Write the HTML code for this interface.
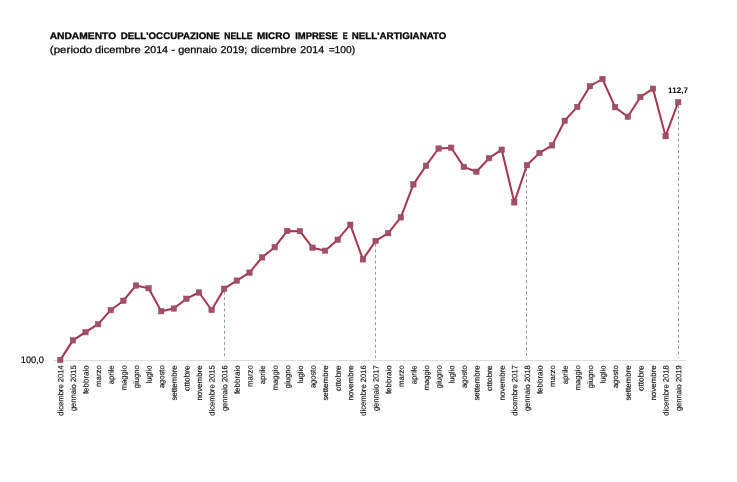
<!DOCTYPE html>
<html lang="it"><head><meta charset="utf-8"><title>Andamento dell'occupazione</title>
<style>
html,body{margin:0;padding:0;background:#fff;}
body{width:737px;height:482px;overflow:hidden;}
svg{display:block;}
text{font-family:"Liberation Sans",sans-serif;fill:#000;}
.t1{font-weight:bold;font-size:9.5px;stroke:#000;stroke-width:0.3px;}
.t2{font-size:10px;stroke:#000;stroke-width:0.25px;}
.xl{font-size:7.7px;fill:#111;stroke:#111;stroke-width:0.15px;}
.yl{font-size:9.4px;stroke:#000;stroke-width:0.15px;}
.vl{font-weight:bold;font-size:8.1px;}
</style></head><body>
<svg width="737" height="482" viewBox="0 0 737 482">
<rect width="737" height="482" fill="#fff"/>
<text class="t1" y="39.0" transform="matrix(1 0 0.001 1 0 0)"><tspan x="49.6" textLength="66.5" lengthAdjust="spacingAndGlyphs">ANDAMENTO</tspan> <tspan x="120.8" textLength="98.9" lengthAdjust="spacingAndGlyphs">DELL'OCCUPAZIONE</tspan> <tspan x="224.2" textLength="28.2" lengthAdjust="spacingAndGlyphs">NELLE</tspan> <tspan x="257.0" textLength="33.2" lengthAdjust="spacingAndGlyphs">MICRO</tspan> <tspan x="295.1" textLength="42.7" lengthAdjust="spacingAndGlyphs">IMPRESE</tspan> <tspan x="342.7" textLength="4.9" lengthAdjust="spacingAndGlyphs">E</tspan> <tspan x="351.8" textLength="94.5" lengthAdjust="spacingAndGlyphs">NELL'ARTIGIANATO</tspan></text>
<text class="t2" y="53.1" transform="matrix(1 0 0.001 1 0 0)"><tspan x="49.8" textLength="42.4" lengthAdjust="spacingAndGlyphs">(periodo</tspan> <tspan x="95.0" textLength="45.6" lengthAdjust="spacingAndGlyphs">dicembre</tspan> <tspan x="144.2" textLength="23.8" lengthAdjust="spacingAndGlyphs">2014</tspan> <tspan x="171.1" textLength="4.0" lengthAdjust="spacingAndGlyphs">-</tspan> <tspan x="178.1" textLength="38.8" lengthAdjust="spacingAndGlyphs">gennaio</tspan> <tspan x="220.4" textLength="26.9" lengthAdjust="spacingAndGlyphs">2019;</tspan> <tspan x="250.9" textLength="45.4" lengthAdjust="spacingAndGlyphs">dicembre</tspan> <tspan x="300.3" textLength="23.8" lengthAdjust="spacingAndGlyphs">2014</tspan> <tspan x="328.6" textLength="26.4" lengthAdjust="spacingAndGlyphs">=100)</tspan></text>
<line x1="53.5" y1="360.5" x2="685" y2="360.5" stroke="#dcdcdc" stroke-width="1"/>
<line x1="224.5" y1="291.7" x2="224.5" y2="358" stroke="#6f8797" stroke-width="0.85" stroke-dasharray="2.8 2.8"/>
<line x1="375.5" y1="243.9" x2="375.5" y2="358" stroke="#6f8797" stroke-width="0.85" stroke-dasharray="2.8 2.8"/>
<line x1="526.5" y1="168.2" x2="526.5" y2="358" stroke="#6f8797" stroke-width="0.85" stroke-dasharray="2.8 2.8"/>
<line x1="678.5" y1="105.2" x2="678.5" y2="358" stroke="#6f8797" stroke-width="0.85" stroke-dasharray="2.8 2.8"/>
<polyline points="60.3,359.9 72.9,340.4 85.5,332.2 98.1,324.2 110.7,310.2 123.4,300.7 136.0,285.5 148.6,288.2 161.2,311.2 173.8,308.5 186.4,298.7 199.0,292.5 211.6,310.0 224.2,288.7 236.8,280.6 249.5,272.6 262.1,257.4 274.7,247.2 287.3,230.9 299.9,231.2 312.5,247.7 325.1,250.7 337.7,239.7 350.3,224.7 362.9,259.4 375.6,240.9 388.2,233.2 400.8,217.4 413.4,184.4 426.0,165.7 438.6,148.5 451.2,147.7 463.8,166.9 476.4,171.7 489.0,158.2 501.7,149.7 514.3,202.4 526.9,165.2 539.5,152.9 552.1,145.4 564.7,120.7 577.3,106.9 589.9,86.2 602.5,79.0 615.1,107.2 627.8,116.7 640.4,97.0 653.0,88.7 665.6,136.2 678.2,102.2" fill="none" stroke="#a6364b" stroke-width="2" stroke-linejoin="round"/>
<rect x="57.6" y="357.2" width="5.4" height="5.4" fill="#a0506a" stroke="#96405a" stroke-width="0.5"/>
<rect x="70.2" y="337.7" width="5.4" height="5.4" fill="#a0506a" stroke="#96405a" stroke-width="0.5"/>
<rect x="82.8" y="329.5" width="5.4" height="5.4" fill="#a0506a" stroke="#96405a" stroke-width="0.5"/>
<rect x="95.4" y="321.5" width="5.4" height="5.4" fill="#a0506a" stroke="#96405a" stroke-width="0.5"/>
<rect x="108.0" y="307.5" width="5.4" height="5.4" fill="#a0506a" stroke="#96405a" stroke-width="0.5"/>
<rect x="120.7" y="298.0" width="5.4" height="5.4" fill="#a0506a" stroke="#96405a" stroke-width="0.5"/>
<rect x="133.3" y="282.8" width="5.4" height="5.4" fill="#a0506a" stroke="#96405a" stroke-width="0.5"/>
<rect x="145.9" y="285.5" width="5.4" height="5.4" fill="#a0506a" stroke="#96405a" stroke-width="0.5"/>
<rect x="158.5" y="308.5" width="5.4" height="5.4" fill="#a0506a" stroke="#96405a" stroke-width="0.5"/>
<rect x="171.1" y="305.8" width="5.4" height="5.4" fill="#a0506a" stroke="#96405a" stroke-width="0.5"/>
<rect x="183.7" y="296.0" width="5.4" height="5.4" fill="#a0506a" stroke="#96405a" stroke-width="0.5"/>
<rect x="196.3" y="289.8" width="5.4" height="5.4" fill="#a0506a" stroke="#96405a" stroke-width="0.5"/>
<rect x="208.9" y="307.3" width="5.4" height="5.4" fill="#a0506a" stroke="#96405a" stroke-width="0.5"/>
<rect x="221.5" y="286.0" width="5.4" height="5.4" fill="#a0506a" stroke="#96405a" stroke-width="0.5"/>
<rect x="234.1" y="277.9" width="5.4" height="5.4" fill="#a0506a" stroke="#96405a" stroke-width="0.5"/>
<rect x="246.8" y="269.9" width="5.4" height="5.4" fill="#a0506a" stroke="#96405a" stroke-width="0.5"/>
<rect x="259.4" y="254.7" width="5.4" height="5.4" fill="#a0506a" stroke="#96405a" stroke-width="0.5"/>
<rect x="272.0" y="244.5" width="5.4" height="5.4" fill="#a0506a" stroke="#96405a" stroke-width="0.5"/>
<rect x="284.6" y="228.2" width="5.4" height="5.4" fill="#a0506a" stroke="#96405a" stroke-width="0.5"/>
<rect x="297.2" y="228.5" width="5.4" height="5.4" fill="#a0506a" stroke="#96405a" stroke-width="0.5"/>
<rect x="309.8" y="245.0" width="5.4" height="5.4" fill="#a0506a" stroke="#96405a" stroke-width="0.5"/>
<rect x="322.4" y="248.0" width="5.4" height="5.4" fill="#a0506a" stroke="#96405a" stroke-width="0.5"/>
<rect x="335.0" y="237.0" width="5.4" height="5.4" fill="#a0506a" stroke="#96405a" stroke-width="0.5"/>
<rect x="347.6" y="222.0" width="5.4" height="5.4" fill="#a0506a" stroke="#96405a" stroke-width="0.5"/>
<rect x="360.2" y="256.7" width="5.4" height="5.4" fill="#a0506a" stroke="#96405a" stroke-width="0.5"/>
<rect x="372.9" y="238.2" width="5.4" height="5.4" fill="#a0506a" stroke="#96405a" stroke-width="0.5"/>
<rect x="385.5" y="230.5" width="5.4" height="5.4" fill="#a0506a" stroke="#96405a" stroke-width="0.5"/>
<rect x="398.1" y="214.7" width="5.4" height="5.4" fill="#a0506a" stroke="#96405a" stroke-width="0.5"/>
<rect x="410.7" y="181.7" width="5.4" height="5.4" fill="#a0506a" stroke="#96405a" stroke-width="0.5"/>
<rect x="423.3" y="163.0" width="5.4" height="5.4" fill="#a0506a" stroke="#96405a" stroke-width="0.5"/>
<rect x="435.9" y="145.8" width="5.4" height="5.4" fill="#a0506a" stroke="#96405a" stroke-width="0.5"/>
<rect x="448.5" y="145.0" width="5.4" height="5.4" fill="#a0506a" stroke="#96405a" stroke-width="0.5"/>
<rect x="461.1" y="164.2" width="5.4" height="5.4" fill="#a0506a" stroke="#96405a" stroke-width="0.5"/>
<rect x="473.7" y="169.0" width="5.4" height="5.4" fill="#a0506a" stroke="#96405a" stroke-width="0.5"/>
<rect x="486.3" y="155.5" width="5.4" height="5.4" fill="#a0506a" stroke="#96405a" stroke-width="0.5"/>
<rect x="499.0" y="147.0" width="5.4" height="5.4" fill="#a0506a" stroke="#96405a" stroke-width="0.5"/>
<rect x="511.6" y="199.7" width="5.4" height="5.4" fill="#a0506a" stroke="#96405a" stroke-width="0.5"/>
<rect x="524.2" y="162.5" width="5.4" height="5.4" fill="#a0506a" stroke="#96405a" stroke-width="0.5"/>
<rect x="536.8" y="150.2" width="5.4" height="5.4" fill="#a0506a" stroke="#96405a" stroke-width="0.5"/>
<rect x="549.4" y="142.7" width="5.4" height="5.4" fill="#a0506a" stroke="#96405a" stroke-width="0.5"/>
<rect x="562.0" y="118.0" width="5.4" height="5.4" fill="#a0506a" stroke="#96405a" stroke-width="0.5"/>
<rect x="574.6" y="104.2" width="5.4" height="5.4" fill="#a0506a" stroke="#96405a" stroke-width="0.5"/>
<rect x="587.2" y="83.5" width="5.4" height="5.4" fill="#a0506a" stroke="#96405a" stroke-width="0.5"/>
<rect x="599.8" y="76.3" width="5.4" height="5.4" fill="#a0506a" stroke="#96405a" stroke-width="0.5"/>
<rect x="612.4" y="104.5" width="5.4" height="5.4" fill="#a0506a" stroke="#96405a" stroke-width="0.5"/>
<rect x="625.1" y="114.0" width="5.4" height="5.4" fill="#a0506a" stroke="#96405a" stroke-width="0.5"/>
<rect x="637.7" y="94.3" width="5.4" height="5.4" fill="#a0506a" stroke="#96405a" stroke-width="0.5"/>
<rect x="650.3" y="86.0" width="5.4" height="5.4" fill="#a0506a" stroke="#96405a" stroke-width="0.5"/>
<rect x="662.9" y="133.5" width="5.4" height="5.4" fill="#a0506a" stroke="#96405a" stroke-width="0.5"/>
<rect x="675.5" y="99.5" width="5.4" height="5.4" fill="#a0506a" stroke="#96405a" stroke-width="0.5"/>
<text class="yl" x="20.8" y="363.3" transform="matrix(1 0 0.001 1 -0.36 0)" textLength="23.1" lengthAdjust="spacingAndGlyphs">100,0</text>
<text class="vl" x="668.1" y="93.5" transform="matrix(1 0 0.001 1 -0.09 0)" textLength="19.8" lengthAdjust="spacingAndGlyphs">112,7</text>
<text class="xl" transform="translate(63.3,365.3) rotate(-89.95)" text-anchor="end" textLength="50.4" lengthAdjust="spacingAndGlyphs">dicembre 2014</text>
<text class="xl" transform="translate(75.9,365.3) rotate(-89.95)" text-anchor="end" textLength="45.8" lengthAdjust="spacingAndGlyphs">gennaio 2015</text>
<text class="xl" transform="translate(88.5,365.3) rotate(-89.95)" text-anchor="end" textLength="28.8" lengthAdjust="spacingAndGlyphs">febbraio</text>
<text class="xl" transform="translate(101.1,365.3) rotate(-89.95)" text-anchor="end" textLength="21.6" lengthAdjust="spacingAndGlyphs">marzo</text>
<text class="xl" transform="translate(113.7,365.3) rotate(-89.95)" text-anchor="end" textLength="19.0" lengthAdjust="spacingAndGlyphs">aprile</text>
<text class="xl" transform="translate(126.4,365.3) rotate(-89.95)" text-anchor="end" textLength="25.0" lengthAdjust="spacingAndGlyphs">maggio</text>
<text class="xl" transform="translate(139.0,365.3) rotate(-89.95)" text-anchor="end" textLength="23.0" lengthAdjust="spacingAndGlyphs">giugno</text>
<text class="xl" transform="translate(151.6,365.3) rotate(-89.95)" text-anchor="end" textLength="18.3" lengthAdjust="spacingAndGlyphs">luglio</text>
<text class="xl" transform="translate(164.2,365.3) rotate(-89.95)" text-anchor="end" textLength="22.8" lengthAdjust="spacingAndGlyphs">agosto</text>
<text class="xl" transform="translate(176.8,365.3) rotate(-89.95)" text-anchor="end" textLength="35.3" lengthAdjust="spacingAndGlyphs">settembre</text>
<text class="xl" transform="translate(189.4,365.3) rotate(-89.95)" text-anchor="end" textLength="25.8" lengthAdjust="spacingAndGlyphs">ottobre</text>
<text class="xl" transform="translate(202.0,365.3) rotate(-89.95)" text-anchor="end" textLength="35.3" lengthAdjust="spacingAndGlyphs">novembre</text>
<text class="xl" transform="translate(214.6,365.3) rotate(-89.95)" text-anchor="end" textLength="50.4" lengthAdjust="spacingAndGlyphs">dicembre 2015</text>
<text class="xl" transform="translate(227.2,365.3) rotate(-89.95)" text-anchor="end" textLength="45.8" lengthAdjust="spacingAndGlyphs">gennaio 2016</text>
<text class="xl" transform="translate(239.8,365.3) rotate(-89.95)" text-anchor="end" textLength="28.8" lengthAdjust="spacingAndGlyphs">febbraio</text>
<text class="xl" transform="translate(252.5,365.3) rotate(-89.95)" text-anchor="end" textLength="21.6" lengthAdjust="spacingAndGlyphs">marzo</text>
<text class="xl" transform="translate(265.1,365.3) rotate(-89.95)" text-anchor="end" textLength="19.0" lengthAdjust="spacingAndGlyphs">aprile</text>
<text class="xl" transform="translate(277.7,365.3) rotate(-89.95)" text-anchor="end" textLength="25.0" lengthAdjust="spacingAndGlyphs">maggio</text>
<text class="xl" transform="translate(290.3,365.3) rotate(-89.95)" text-anchor="end" textLength="23.0" lengthAdjust="spacingAndGlyphs">giugno</text>
<text class="xl" transform="translate(302.9,365.3) rotate(-89.95)" text-anchor="end" textLength="18.3" lengthAdjust="spacingAndGlyphs">luglio</text>
<text class="xl" transform="translate(315.5,365.3) rotate(-89.95)" text-anchor="end" textLength="22.8" lengthAdjust="spacingAndGlyphs">agosto</text>
<text class="xl" transform="translate(328.1,365.3) rotate(-89.95)" text-anchor="end" textLength="35.3" lengthAdjust="spacingAndGlyphs">settembre</text>
<text class="xl" transform="translate(340.7,365.3) rotate(-89.95)" text-anchor="end" textLength="25.8" lengthAdjust="spacingAndGlyphs">ottobre</text>
<text class="xl" transform="translate(353.3,365.3) rotate(-89.95)" text-anchor="end" textLength="35.3" lengthAdjust="spacingAndGlyphs">novembre</text>
<text class="xl" transform="translate(365.9,365.3) rotate(-89.95)" text-anchor="end" textLength="50.4" lengthAdjust="spacingAndGlyphs">dicembre 2016</text>
<text class="xl" transform="translate(378.6,365.3) rotate(-89.95)" text-anchor="end" textLength="45.8" lengthAdjust="spacingAndGlyphs">gennaio 2017</text>
<text class="xl" transform="translate(391.2,365.3) rotate(-89.95)" text-anchor="end" textLength="28.8" lengthAdjust="spacingAndGlyphs">febbraio</text>
<text class="xl" transform="translate(403.8,365.3) rotate(-89.95)" text-anchor="end" textLength="21.6" lengthAdjust="spacingAndGlyphs">marzo</text>
<text class="xl" transform="translate(416.4,365.3) rotate(-89.95)" text-anchor="end" textLength="19.0" lengthAdjust="spacingAndGlyphs">aprile</text>
<text class="xl" transform="translate(429.0,365.3) rotate(-89.95)" text-anchor="end" textLength="25.0" lengthAdjust="spacingAndGlyphs">maggio</text>
<text class="xl" transform="translate(441.6,365.3) rotate(-89.95)" text-anchor="end" textLength="23.0" lengthAdjust="spacingAndGlyphs">giugno</text>
<text class="xl" transform="translate(454.2,365.3) rotate(-89.95)" text-anchor="end" textLength="18.3" lengthAdjust="spacingAndGlyphs">luglio</text>
<text class="xl" transform="translate(466.8,365.3) rotate(-89.95)" text-anchor="end" textLength="22.8" lengthAdjust="spacingAndGlyphs">agosto</text>
<text class="xl" transform="translate(479.4,365.3) rotate(-89.95)" text-anchor="end" textLength="35.3" lengthAdjust="spacingAndGlyphs">settembre</text>
<text class="xl" transform="translate(492.0,365.3) rotate(-89.95)" text-anchor="end" textLength="25.8" lengthAdjust="spacingAndGlyphs">ottobre</text>
<text class="xl" transform="translate(504.7,365.3) rotate(-89.95)" text-anchor="end" textLength="35.3" lengthAdjust="spacingAndGlyphs">novembre</text>
<text class="xl" transform="translate(517.3,365.3) rotate(-89.95)" text-anchor="end" textLength="50.4" lengthAdjust="spacingAndGlyphs">dicembre 2017</text>
<text class="xl" transform="translate(529.9,365.3) rotate(-89.95)" text-anchor="end" textLength="45.8" lengthAdjust="spacingAndGlyphs">gennaio 2018</text>
<text class="xl" transform="translate(542.5,365.3) rotate(-89.95)" text-anchor="end" textLength="28.8" lengthAdjust="spacingAndGlyphs">febbraio</text>
<text class="xl" transform="translate(555.1,365.3) rotate(-89.95)" text-anchor="end" textLength="21.6" lengthAdjust="spacingAndGlyphs">marzo</text>
<text class="xl" transform="translate(567.7,365.3) rotate(-89.95)" text-anchor="end" textLength="19.0" lengthAdjust="spacingAndGlyphs">aprile</text>
<text class="xl" transform="translate(580.3,365.3) rotate(-89.95)" text-anchor="end" textLength="25.0" lengthAdjust="spacingAndGlyphs">maggio</text>
<text class="xl" transform="translate(592.9,365.3) rotate(-89.95)" text-anchor="end" textLength="23.0" lengthAdjust="spacingAndGlyphs">giugno</text>
<text class="xl" transform="translate(605.5,365.3) rotate(-89.95)" text-anchor="end" textLength="18.3" lengthAdjust="spacingAndGlyphs">luglio</text>
<text class="xl" transform="translate(618.1,365.3) rotate(-89.95)" text-anchor="end" textLength="22.8" lengthAdjust="spacingAndGlyphs">agosto</text>
<text class="xl" transform="translate(630.8,365.3) rotate(-89.95)" text-anchor="end" textLength="35.3" lengthAdjust="spacingAndGlyphs">settembre</text>
<text class="xl" transform="translate(643.4,365.3) rotate(-89.95)" text-anchor="end" textLength="25.8" lengthAdjust="spacingAndGlyphs">ottobre</text>
<text class="xl" transform="translate(656.0,365.3) rotate(-89.95)" text-anchor="end" textLength="35.3" lengthAdjust="spacingAndGlyphs">novembre</text>
<text class="xl" transform="translate(668.6,365.3) rotate(-89.95)" text-anchor="end" textLength="50.4" lengthAdjust="spacingAndGlyphs">dicembre 2018</text>
<text class="xl" transform="translate(681.2,365.3) rotate(-89.95)" text-anchor="end" textLength="45.8" lengthAdjust="spacingAndGlyphs">gennaio 2019</text>
</svg>
</body></html>
